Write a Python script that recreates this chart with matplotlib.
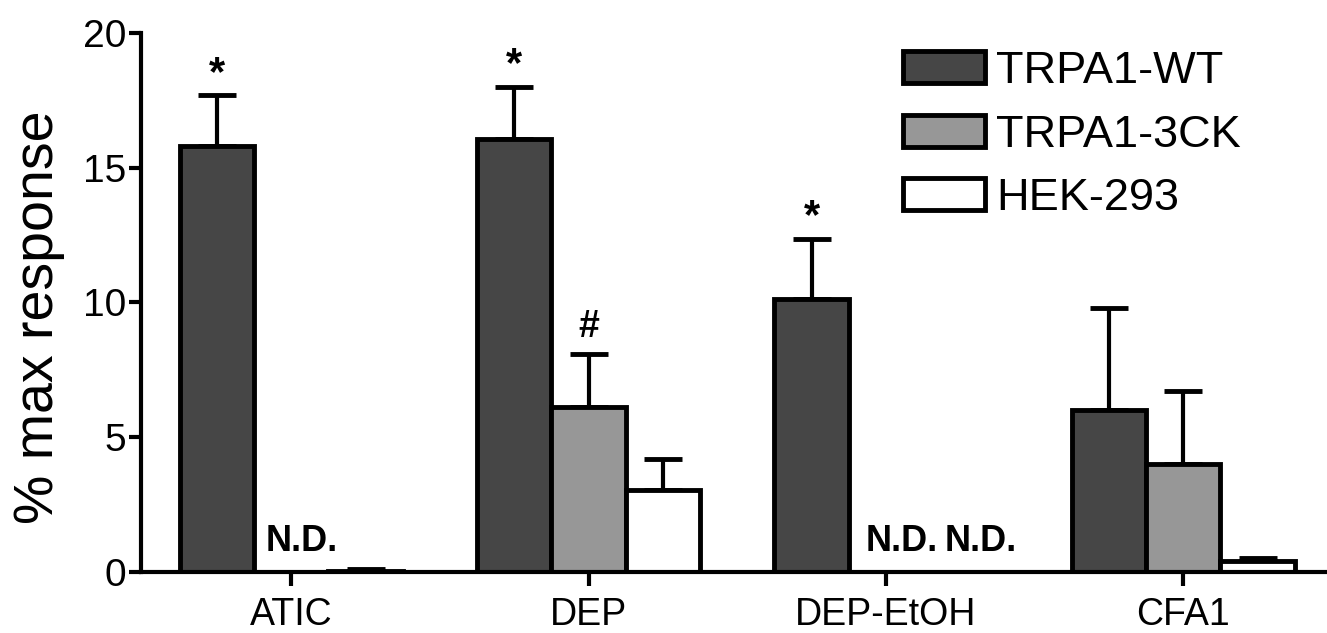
import matplotlib
matplotlib.use('Agg')
import matplotlib.pyplot as plt
import numpy as np

plt.rcParams['font.family'] = ['Liberation Sans', 'DejaVu Sans']

# data
groups = ['ATIC', 'DEP', 'DEP-EtOH', 'CFA1']
series = ['TRPA1-WT', 'TRPA1-3CK', 'HEK-293']
wt = [15.8, 16.05, 10.12, 6.0]
wt_err = [1.9, 1.95, 2.25, 3.8]
ck = [np.nan, 6.13, np.nan, 4.0]
ck_err = [np.nan, 1.95, np.nan, 2.72]
hek = [0.05, 3.04, np.nan, 0.4]
hek_err = [0.06, 1.14, np.nan, 0.13]

# significance marks: (series index, group index, text)
marks = [(0, 0, '*'), (0, 1, '*'), (0, 2, '*'), (1, 1, '#')]
# not detected: (series index, group index, nudge right of bar's left edge)
nd = [(1, 0, 0.04), (1, 2, 0.057), (2, 2, 0.074)]

colors = ['#464646', '#979797', 'white']
vals = [wt, ck, hek]
errs = [wt_err, ck_err, hek_err]

fig = plt.figure(figsize=(13.27, 6.33), dpi=100)
ax = fig.add_axes([0.1063, 0.0964, 0.8922, 0.8515])

x = np.arange(len(groups))
w = 0.25
for i in range(3):
    xs = x + (i - 1) * w
    v = np.array(vals[i], dtype=float)
    e = np.array(errs[i], dtype=float)
    ax.bar(xs, v, width=w, color=colors[i], edgecolor='black', linewidth=3.5,
           label=series[i], zorder=2)
    ax.errorbar(xs, v, yerr=[np.zeros_like(e), e], fmt='none', ecolor='black',
                elinewidth=3, capsize=14, capthick=3.5, zorder=1)

for s, g, t in marks:
    top = vals[s][g] + errs[s][g]
    pad = 0.05 if t == '*' else 0.35
    ax.text(x[g] + (s - 1) * w, top + pad, t, ha='center', va='bottom',
            fontsize=30 if t == '*' else 27, fontweight='bold')

for s, g, nudge in nd:
    ax.text(x[g] + (s - 1.5) * w + nudge, 0.5, 'N.D.', ha='left', va='bottom',
            fontsize=26, fontweight='bold')

ax.set_xlim(-0.505, 3.477)
ax.set_ylim(0, 20)
ax.set_yticks([0, 5, 10, 15, 20])
ax.set_xticks(x)
ax.set_xticklabels(groups)
ax.spines['top'].set_visible(False)
ax.spines['right'].set_visible(False)
ax.spines['left'].set_linewidth(3)
ax.spines['bottom'].set_linewidth(3)
ax.spines['left'].set_bounds(0, 20)
ax.tick_params(axis='y', length=9, width=3, pad=1.5, labelsize=28)
ax.tick_params(axis='x', length=10, width=3, pad=8, labelsize=27)
ax.set_ylabel('% max response', fontsize=40)
ax.yaxis.set_label_coords(-0.064, 0.473)

leg = ax.legend(loc='upper left', bbox_to_anchor=(903 / 1327, 1 - 51 / 633),
                bbox_transform=fig.transFigure, frameon=False, fontsize=32.5,
                handlelength=1.82, handleheight=0.72, handletextpad=0.25,
                labelspacing=0.5, borderpad=0, borderaxespad=0)

fig.savefig('out.png', dpi=100)
